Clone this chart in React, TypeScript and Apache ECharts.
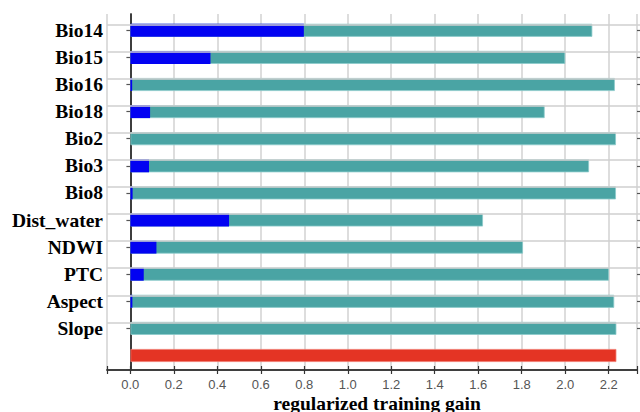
import React, { useEffect, useRef } from "react";
import * as echarts from "echarts";

const categories = [
  "Bio14", "Bio15", "Bio16", "Bio18", "Bio2", "Bio3", "Bio8",
  "Dist_water", "NDWI", "PTC", "Aspect", "Slope", "",
];
const withoutVariable = [2.112, 1.988, 2.215, 1.894, 2.22, 2.097, 2.22, 1.612, 1.795, 2.188, 2.212, 2.222];
const withOnlyVariable = [0.793, 0.366, 0.008, 0.09, 0, 0.085, 0.01, 0.451, 0.119, 0.061, 0.009, 0];
const withAllVariables = 2.222;
const axisTitle = "regularized training gain";

const X_MIN = -0.107;
const X_MAX = 2.33;

export default function App() {
  const ref = useRef<HTMLDivElement>(null);
  useEffect(() => {
    if (!ref.current) return;
    const chart = echarts.init(ref.current, null, { renderer: "svg" });
    const n = categories.length;
    const teal = withoutVariable.map((v) => v as any).concat(["-"]);
    const blue = withOnlyVariable.map((v) => v as any).concat(["-"]);
    const red = categories.map((_, i) => (i === n - 1 ? withAllVariables : "-"));
    const named = categories.filter((c) => c !== "");
    const serif = "Liberation Serif";

    // bar grid geometry (band = 27.1px)
    const barTop = 16.75;
    const band = 27.1;
    const barBottom = 412 - (barTop + band * n);
    const labelBottom = 412 - (barTop + band * named.length);

    chart.setOption({
      animation: false,
      backgroundColor: "#ffffff",
      title: {
        text: axisTitle,
        left: 377,
        top: 393,
        textAlign: "center",
        padding: 0,
        textStyle: {
          color: "#000",
          fontSize: 19.5,
          fontWeight: "bold",
          fontFamily: serif,
        },
      },
      grid: [
        { left: 107, right: 0, top: 14, bottom: 42, containLabel: false },
        { left: 107, right: 0, top: barTop, bottom: barBottom, containLabel: false },
        { left: 107, right: 0, top: barTop, bottom: labelBottom, containLabel: false },
      ],
      xAxis: [
        {
          type: "value",
          gridIndex: 0,
          position: "bottom",
          min: X_MIN,
          max: X_MAX,
          splitNumber: 12,
          axisLine: { show: true, lineStyle: { color: "#333", width: 1.5 } },
          axisTick: { show: true, inside: true, length: 4, lineStyle: { color: "#333", width: 1.2 } },
          axisLabel: {
            color: "#555",
            fontSize: 13,
            fontFamily: "Liberation Sans",
            margin: 8,
            formatter: (v: number) => (v < -0.001 || v > 2.25 ? "" : v.toFixed(1)),
          },
          splitLine: { show: true, lineStyle: { color: "#d2d2d2", width: 1.5 } },
        },
        {
          type: "value",
          gridIndex: 0,
          position: "top",
          min: X_MIN,
          max: X_MAX,
          splitNumber: 12,
          axisLine: { show: true, lineStyle: { color: "#333", width: 1.5 } },
          axisTick: { show: true, inside: true, length: 4, lineStyle: { color: "#333", width: 1.2 } },
          axisLabel: { show: false },
          splitLine: { show: false },
        },
        { type: "value", gridIndex: 1, min: X_MIN, max: X_MAX, show: false },
        { type: "value", gridIndex: 2, min: X_MIN, max: X_MAX, show: false },
      ],
      yAxis: [
        {
          type: "value",
          gridIndex: 0,
          position: "left",
          axisLine: { show: true, lineStyle: { color: "#333", width: 1.5 } },
          axisTick: { show: false },
          axisLabel: { show: false },
          splitLine: { show: false },
        },
        {
          type: "value",
          gridIndex: 0,
          position: "right",
          axisLine: { show: true, lineStyle: { color: "#333", width: 1.5 } },
          axisTick: { show: false },
          axisLabel: { show: false },
          splitLine: { show: false },
        },
        {
          type: "category",
          gridIndex: 1,
          inverse: true,
          data: categories,
          show: false,
        },
        {
          type: "category",
          gridIndex: 2,
          position: "left",
          inverse: true,
          data: named,
          axisLine: { show: false },
          axisTick: {
            show: true,
            alignWithLabel: true,
            length: 4,
            lineStyle: { color: "#555", width: 1.2 },
          },
          axisLabel: {
            color: "#000",
            fontSize: 19.5,
            fontWeight: "bold",
            fontFamily: serif,
            margin: 4,
            interval: 0,
          },
          splitLine: { show: false },
        },
        {
          type: "category",
          gridIndex: 2,
          position: "right",
          inverse: true,
          data: named,
          axisLine: { show: false },
          axisTick: {
            show: true,
            inside: true,
            alignWithLabel: true,
            length: 3,
            lineStyle: { color: "#555", width: 1.2 },
          },
          axisLabel: { show: false },
          splitLine: { show: false },
        },
      ],
      series: [
        {
          type: "bar",
          xAxisIndex: 2,
          yAxisIndex: 2,
          data: [],
          z: 1,
          silent: true,
          markLine: {
            silent: true,
            symbol: "none",
            label: { show: false },
            lineStyle: { color: "#cfcfcf", width: 1.5, type: "solid" },
            data: named.map((c) => ({ yAxis: c })),
          },
        },
        {
          type: "bar",
          name: "Without variable",
          xAxisIndex: 2,
          yAxisIndex: 2,
          data: teal,
          barWidth: 13,
          barGap: "-100%",
          z: 2,
          itemStyle: { color: "#4aa4a4", borderColor: "#8ccaca", borderWidth: 0.8 },
        },
        {
          type: "bar",
          name: "With only variable",
          xAxisIndex: 2,
          yAxisIndex: 2,
          data: blue,
          barWidth: 13,
          barGap: "-100%",
          z: 3,
          itemStyle: { color: "#0202f2" },
        },
        {
          type: "bar",
          name: "With all variables",
          xAxisIndex: 2,
          yAxisIndex: 2,
          data: red,
          barWidth: 13,
          barGap: "-100%",
          z: 3,
          itemStyle: { color: "#e43424", borderColor: "#f07a6e", borderWidth: 0.8 },
        },
      ],
    });
    return () => chart.dispose();
  }, []);

  return (
    <div
      ref={ref}
      style={{ position: "fixed", left: 0, top: 0, width: 640, height: 412, background: "#fff" }}
    />
  );
}
